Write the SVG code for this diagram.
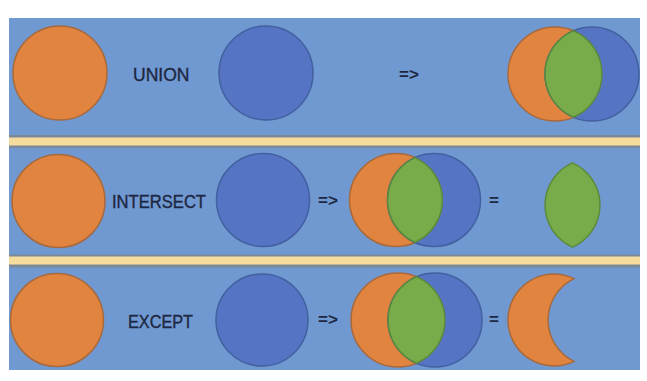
<svg xmlns="http://www.w3.org/2000/svg" width="647" height="381" viewBox="0 0 647 381">
<style>
.or{fill:#e0843f;stroke:#a8693c;stroke-width:1.5}
.bl{fill:#5574c4;stroke:#43609f;stroke-width:1.5}
.gr{fill:#78ac4b;stroke:#5b8a38;stroke-width:1.5}
.lbl{font-family:"Liberation Sans",Arial,sans-serif;font-size:17.5px;fill:#1d2741;stroke:#1d2741;stroke-width:0.35}
.op{font-family:"Liberation Sans",Arial,sans-serif;font-size:17px;font-weight:bold;fill:#1d2741}
</style>
<rect width="647" height="381" fill="#ffffff"/>
<g id="background">
<rect x="9" y="18" width="631" height="352" fill="#7098d1"/>
<rect x="9" y="135" width="631" height="13" fill="#7b8898"/>
<rect x="9" y="137.5" width="631" height="8" fill="#f7dd9d"/>
<rect x="9" y="254.5" width="631" height="13" fill="#7b8898"/>
<rect x="9" y="256.5" width="631" height="8" fill="#f7dd9d"/>
</g>
<g id="row-union">
<g id="union-a"><circle class="or" cx="60" cy="73" r="47"/></g>
<g id="union-label"><text class="lbl" x="133" y="81" font-size="18.5">UNION</text></g>
<g id="union-b"><circle class="bl" cx="266" cy="73" r="47"/></g>
<g id="union-arrow"><text class="op" x="399" y="80">=&gt;</text></g>
<g id="union-result">
<circle class="or" cx="555" cy="74" r="47"/>
<circle class="bl" cx="592" cy="74" r="47"/>
<path class="gr" d="M573.5,30.8 A47 47 0 0 1 573.5,117.2 A47 47 0 0 1 573.5,30.8 Z"/>
</g>
</g>
<g id="row-intersect">
<g id="intersect-a"><circle class="or" cx="58.5" cy="201" r="46.5"/></g>
<g id="intersect-label"><text class="lbl" x="112" y="208" textLength="94" lengthAdjust="spacingAndGlyphs">INTERSECT</text></g>
<g id="intersect-b"><circle class="bl" cx="263" cy="200" r="46.5"/></g>
<g id="intersect-arrow"><text class="op" x="318" y="206">=&gt;</text></g>
<g id="intersect-venn">
<circle class="or" cx="396" cy="200" r="46.5"/>
<circle class="bl" cx="434" cy="200" r="46.5"/>
<path class="gr" d="M415,157.6 A46.5 46.5 0 0 1 415,242.4 A46.5 46.5 0 0 1 415,157.6 Z"/>
</g>
<g id="intersect-eq"><text class="op" x="489" y="206">=</text></g>
<g id="intersect-result">
<path class="gr" d="M572.5,162.9 A46 46 0 0 1 572.5,247.1 A46 46 0 0 1 572.5,162.9 Z"/>
</g>
</g>
<g id="row-except">
<g id="except-a"><circle class="or" cx="57" cy="320" r="46.5"/></g>
<g id="except-label"><text class="lbl" x="128" y="328" textLength="65" lengthAdjust="spacingAndGlyphs">EXCEPT</text></g>
<g id="except-b"><circle class="bl" cx="262" cy="320" r="46"/></g>
<g id="except-arrow"><text class="op" x="318" y="325">=&gt;</text></g>
<g id="except-venn">
<circle class="or" cx="398" cy="320" r="47"/>
<circle class="bl" cx="435" cy="320" r="47"/>
<path class="gr" d="M416.5,276.8 A47 47 0 0 1 416.5,363.2 A47 47 0 0 1 416.5,276.8 Z"/>
</g>
<g id="except-eq"><text class="op" x="489" y="325">=</text></g>
<g id="except-result">
<path class="or" d="M574,278.6 A46 46 0 1 0 574,361.4 A46 46 0 0 1 574,278.6 Z"/>
</g>
</g>
</svg>
